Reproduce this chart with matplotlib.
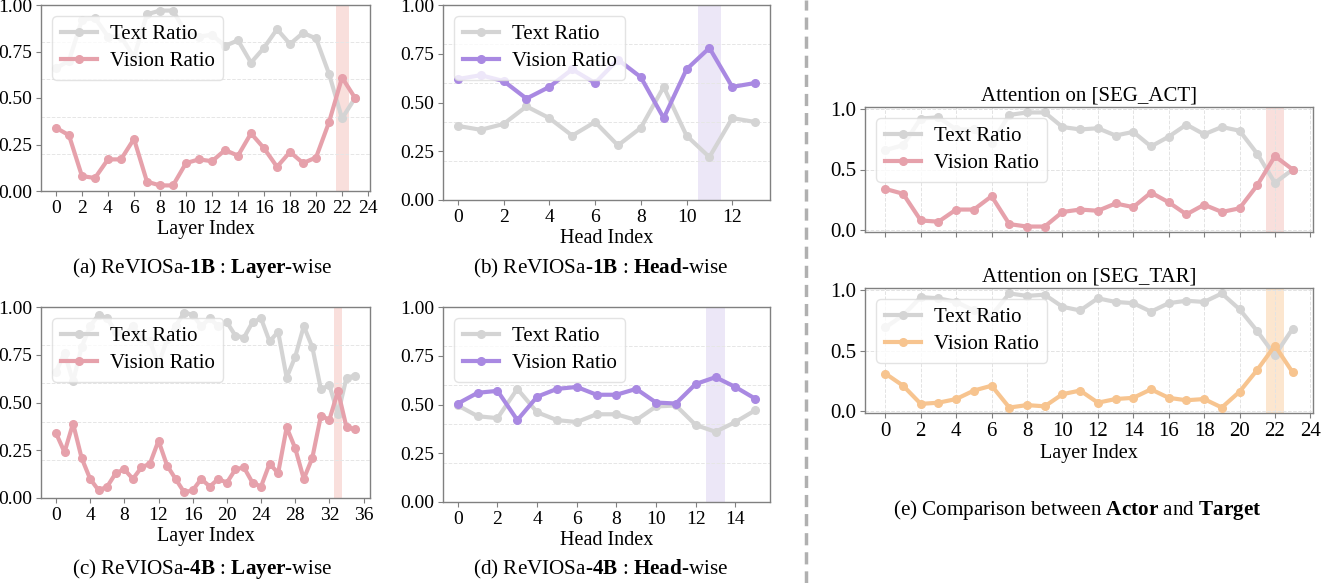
import matplotlib
matplotlib.use("Agg")
import matplotlib.pyplot as plt
import numpy as np

plt.rcParams['font.family'] = ['Liberation Serif', 'DejaVu Serif']
plt.rcParams['mathtext.fontset'] = 'custom'
plt.rcParams['mathtext.rm'] = 'Liberation Serif'
plt.rcParams['mathtext.bf'] = 'Liberation Serif:bold'

# ---------------- data ----------------
a_text = [0.66, 0.70, 0.92, 0.93, 0.83, 0.83, 0.72, 0.95, 0.97, 0.97, 0.85, 0.83,
          0.84, 0.78, 0.81, 0.69, 0.77, 0.87, 0.79, 0.85, 0.82, 0.63, 0.39, 0.50]
a_vision = [0.34, 0.30, 0.08, 0.07, 0.17, 0.17, 0.28, 0.05, 0.03, 0.03, 0.15, 0.17,
            0.16, 0.22, 0.19, 0.31, 0.23, 0.13, 0.21, 0.15, 0.18, 0.37, 0.61, 0.50]

b_text = [0.38, 0.36, 0.39, 0.48, 0.42, 0.33, 0.40, 0.28, 0.37, 0.58, 0.33, 0.22, 0.42, 0.40]
b_vision = [0.62, 0.64, 0.61, 0.52, 0.58, 0.67, 0.60, 0.72, 0.63, 0.42, 0.67, 0.78, 0.58, 0.60]

c_text = [0.66, 0.76, 0.61, 0.79, 0.90, 0.96, 0.94, 0.87, 0.85, 0.90, 0.84, 0.82,
          0.70, 0.83, 0.90, 0.97, 0.96, 0.90, 0.94, 0.90, 0.92, 0.85, 0.84, 0.92,
          0.94, 0.82, 0.87, 0.63, 0.74, 0.90, 0.79, 0.57, 0.59, 0.44, 0.63, 0.64]
c_vision = [0.34, 0.24, 0.39, 0.21, 0.10, 0.04, 0.06, 0.13, 0.15, 0.10, 0.16, 0.18,
            0.30, 0.17, 0.10, 0.03, 0.04, 0.10, 0.06, 0.10, 0.08, 0.15, 0.16, 0.08,
            0.06, 0.18, 0.13, 0.37, 0.26, 0.10, 0.21, 0.43, 0.41, 0.56, 0.37, 0.36]

d_text = [0.495, 0.44, 0.43, 0.58, 0.46, 0.42, 0.41, 0.45, 0.45, 0.42, 0.49, 0.495,
          0.395, 0.36, 0.41, 0.47]
d_vision = [0.505, 0.56, 0.57, 0.42, 0.54, 0.58, 0.59, 0.55, 0.55, 0.58, 0.51, 0.505,
            0.605, 0.64, 0.59, 0.53]

act_text = a_text
act_vision = a_vision
tar_text = [0.69, 0.79, 0.94, 0.93, 0.90, 0.83, 0.79, 0.97, 0.95, 0.96, 0.86, 0.83,
            0.93, 0.90, 0.89, 0.82, 0.89, 0.91, 0.90, 0.97, 0.84, 0.66, 0.46, 0.68]
tar_vision = [0.31, 0.21, 0.06, 0.07, 0.10, 0.17, 0.21, 0.03, 0.05, 0.04, 0.14, 0.17,
              0.07, 0.10, 0.11, 0.18, 0.11, 0.09, 0.10, 0.03, 0.16, 0.34, 0.54, 0.32]

highlight = {'a': 22, 'b': 11, 'c': 33, 'd': 13, 'e1': 22, 'e2': 22}

GRAY = '#d4d4d4'
PINK = '#e6a1ab'
PURPLE = '#a989e2'
ORANGE = '#f7c48f'
PINK_SPAN = '#f9dfdc'
PURPLE_SPAN = '#ece7f7'
ORANGE_SPAN = '#fce6cf'

W, H = 1338, 583
fig = plt.figure(figsize=(W / 100, H / 100), dpi=100)


def add_ax(l, r, t, b):
    return fig.add_axes([l / W, (H - b) / H, (r - l) / W, (b - t) / H])


def style_ax(ax, tick_fs):
    for s in ax.spines.values():
        s.set_color('#808080')
        s.set_linewidth(1.0)
    ax.tick_params(colors='#808080', labelcolor='black', labelsize=tick_fs, length=3.5,
                   width=0.8, pad=3)


def panel(ax, text, vision, vcolor, spancolor, hl, xstep, xlabel, tick_fs=14, small=True):
    x = np.arange(len(text))
    ax.axvspan(hl - 0.5, hl + 0.5, color=spancolor, zorder=0, lw=0)
    ax.plot(x, text, color=GRAY, lw=3, marker='o', ms=5.5, label='Text Ratio', zorder=2)
    ax.plot(x, vision, color=vcolor, lw=3, marker='o', ms=5.5, label='Vision Ratio', zorder=3)
    ax.set_xticks(np.arange(0, len(text) + xstep, xstep))
    ax.set_xlim(-0.05 * (len(text) - 1), (len(text) - 1) * 1.05)
    if small:
        ax.set_ylim(0, 1)
        ax.set_yticks([0, 0.25, 0.5, 0.75, 1.0])
        ax.set_yticklabels(['0.00', '0.25', '0.50', '0.75', '1.00'])
        for yv in [0.2, 0.4, 0.6, 0.8]:
            ax.axhline(yv, color='#e6e6e6', lw=0.7, ls='--', zorder=0.5)
    else:
        ax.set_ylim(-0.015, 1.015)
        ax.set_yticks([0, 0.5, 1.0])
        ax.grid(True, color='#e3e3e3', lw=0.7, ls='--', zorder=0.5)
        ax.set_axisbelow(True)
    if xlabel:
        ax.set_xlabel(xlabel, fontsize=14.5, labelpad=2)
    style_ax(ax, tick_fs)
    leg = ax.legend(loc='upper left', fontsize=15, frameon=True, fancybox=True,
                    framealpha=0.8, edgecolor='#dddddd', handlelength=1.75,
                    handletextpad=0.6, borderaxespad=0.55, labelspacing=0.35)
    return leg


axa = add_ax(41, 370, 5, 191)
panel(axa, a_text, a_vision, PINK, PINK_SPAN, highlight['a'], 2, 'Layer Index')
axb = add_ax(443, 770, 5, 200)
panel(axb, b_text, b_vision, PURPLE, PURPLE_SPAN, highlight['b'], 2, 'Head Index')
axc = add_ax(41, 370, 307, 498)
panel(axc, c_text, c_vision, PINK, PINK_SPAN, highlight['c'], 4, 'Layer Index')
axd = add_ax(443, 770, 307, 502)
panel(axd, d_text, d_vision, PURPLE, PURPLE_SPAN, highlight['d'], 2, 'Head Index')

axe1 = add_ax(865, 1313, 107, 232)
panel(axe1, act_text, act_vision, PINK, PINK_SPAN, highlight['e1'], 2, None, tick_fs=15, small=False)
axe1.tick_params(labelbottom=False)
axe1.set_title('Attention on [SEG_ACT]', fontsize=15, pad=5)
axe2 = add_ax(865, 1313, 288, 413)
panel(axe2, tar_text, tar_vision, ORANGE, ORANGE_SPAN, highlight['e2'], 2, 'Layer Index', tick_fs=15, small=False)
axe2.set_title('Attention on [SEG_TAR]', fontsize=15, pad=5)

cap_fs = 15.2
fig.text(202 / W, 1 - 268 / H, r'(a) ReVIOSa-$\mathbf{1B}$ : $\mathbf{Layer}$-wise', ha='center', va='center', fontsize=cap_fs)
fig.text(601 / W, 1 - 268 / H, r'(b) ReVIOSa-$\mathbf{1B}$ : $\mathbf{Head}$-wise', ha='center', va='center', fontsize=cap_fs)
fig.text(202 / W, 1 - 569 / H, r'(c) ReVIOSa-$\mathbf{4B}$ : $\mathbf{Layer}$-wise', ha='center', va='center', fontsize=cap_fs)
fig.text(601 / W, 1 - 569 / H, r'(d) ReVIOSa-$\mathbf{4B}$ : $\mathbf{Head}$-wise', ha='center', va='center', fontsize=cap_fs)
fig.text(1077 / W, 1 - 510 / H, r'(e) Comparison between $\mathbf{Actor}$ and $\mathbf{Target}$', ha='center', va='center', fontsize=cap_fs)

# divider
fig.add_artist(plt.Line2D([806 / W, 806 / W], [0, 1], color='#b0b0b0', lw=2.5,
                          ls=(0, (3.5, 2.0)), transform=fig.transFigure))

fig.savefig('out.png', dpi=100, facecolor='white')
